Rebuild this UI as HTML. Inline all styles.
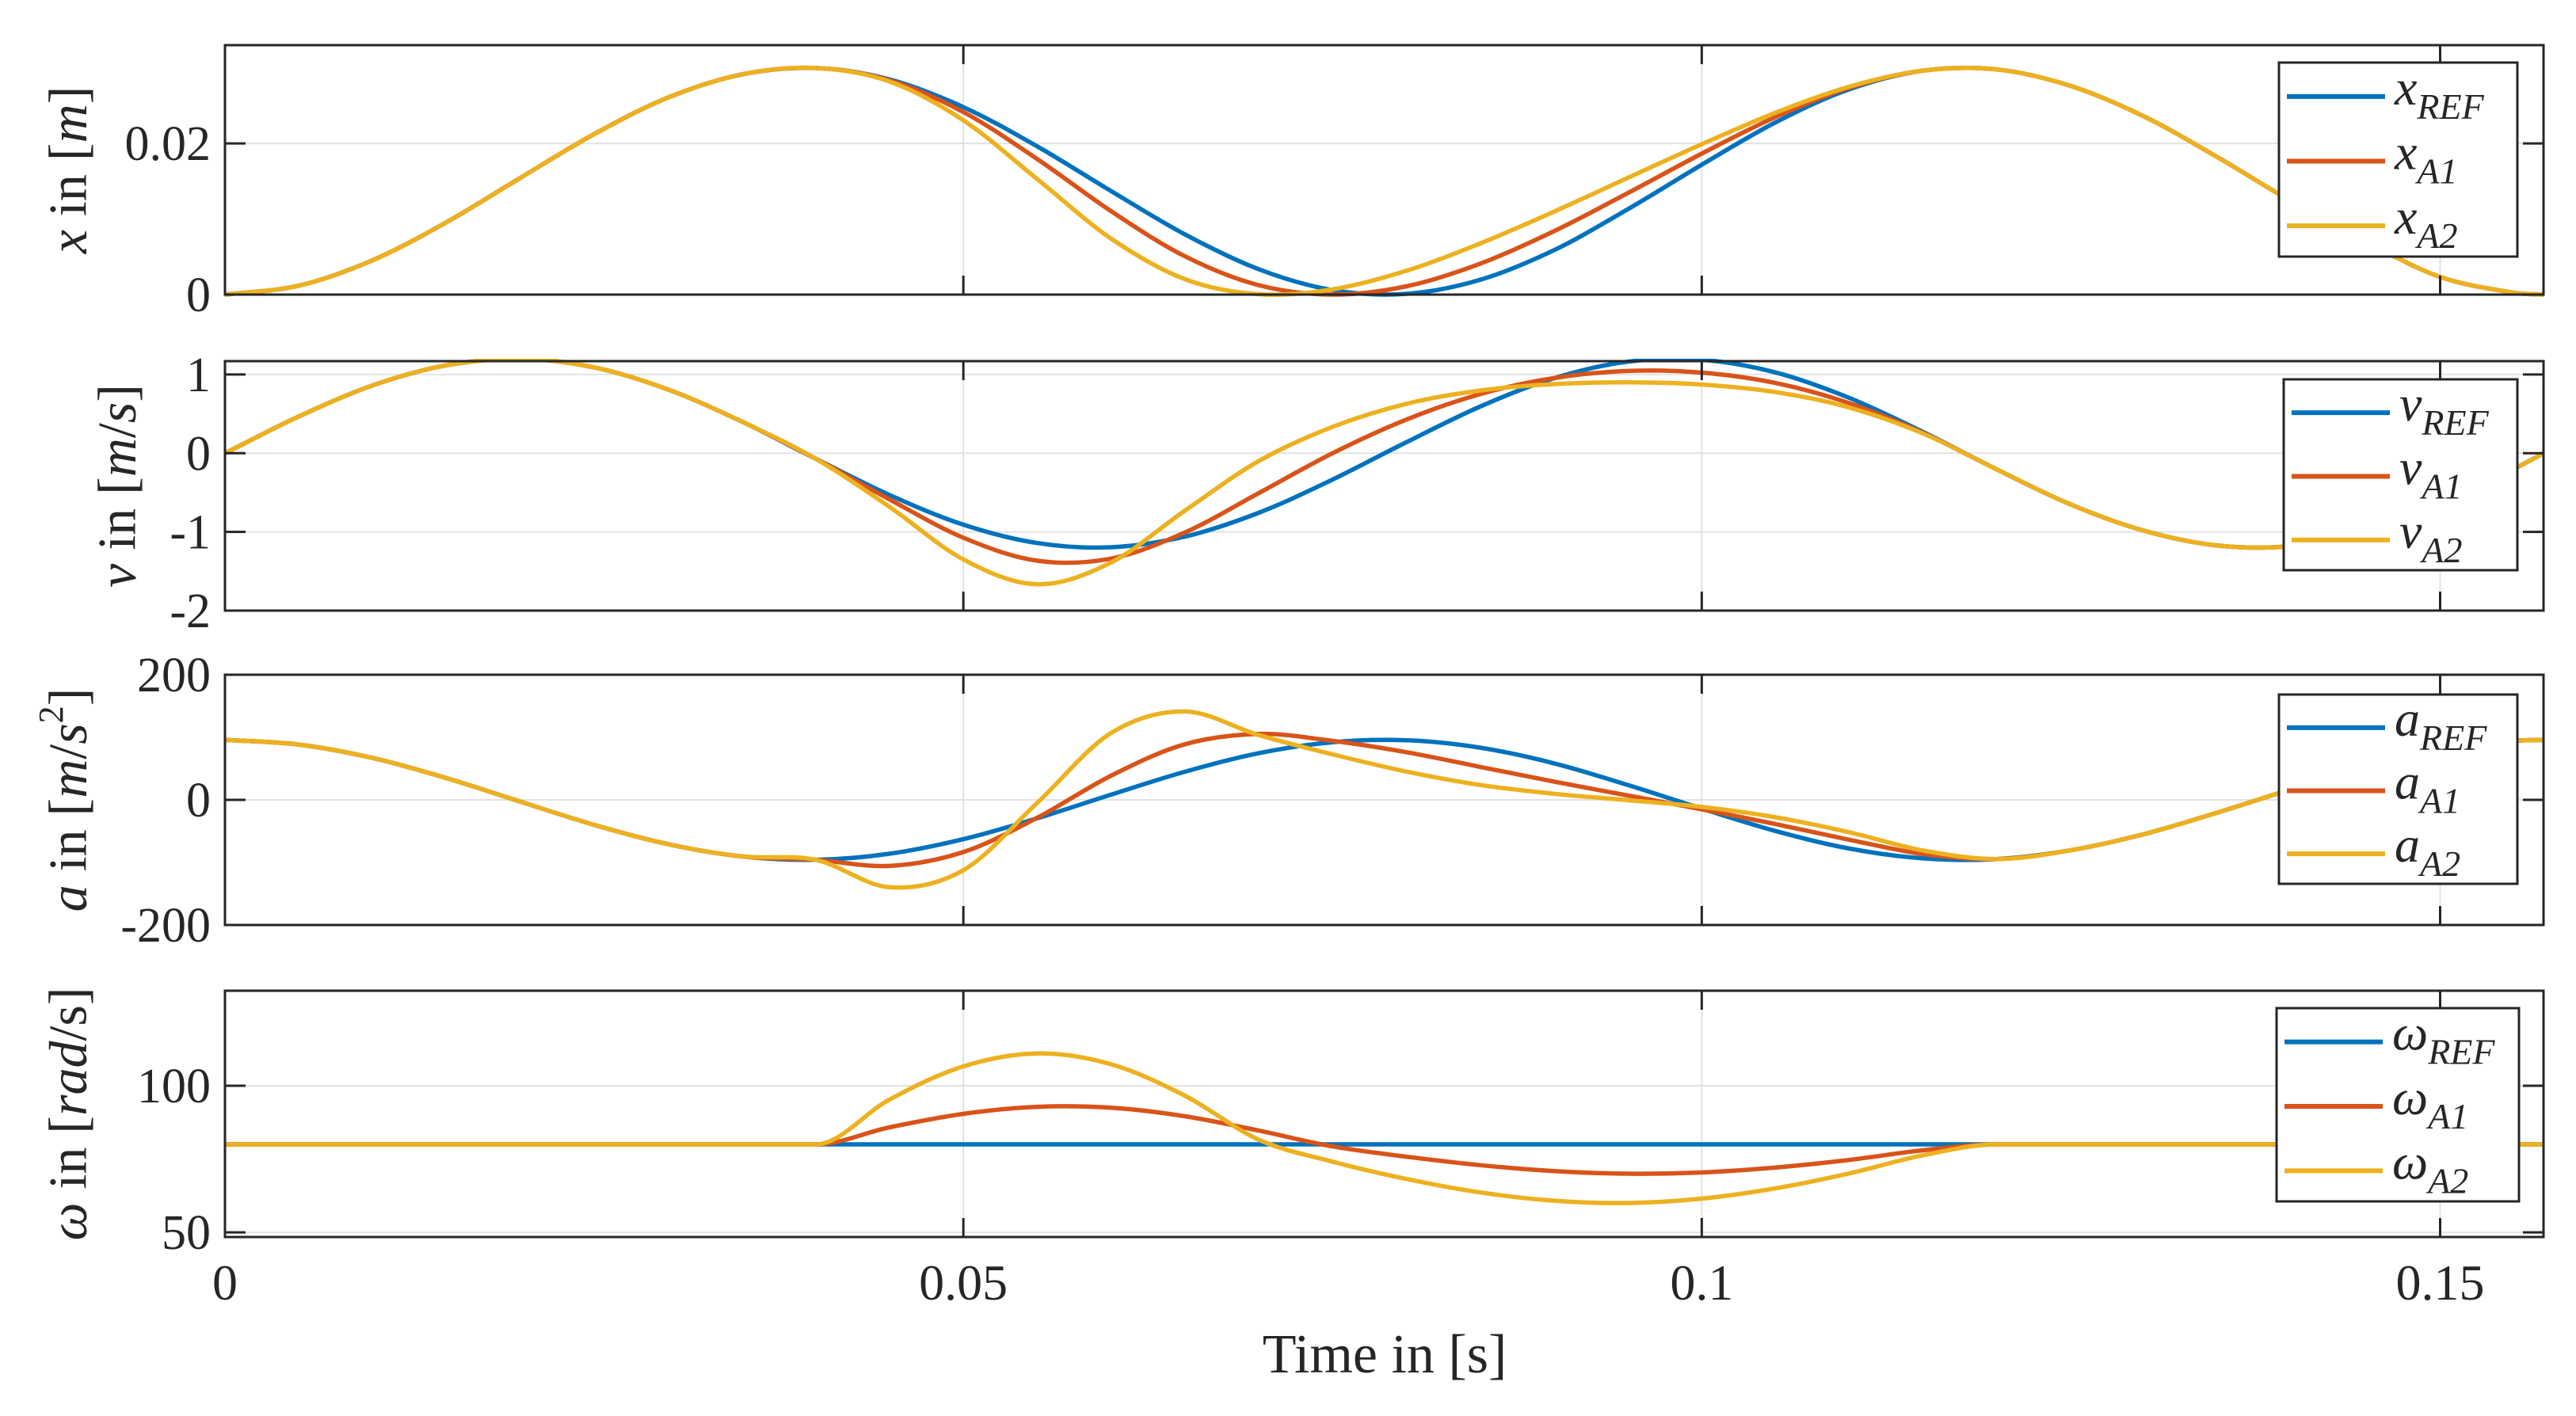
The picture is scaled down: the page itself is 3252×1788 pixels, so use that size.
<!DOCTYPE html>
<html><head><meta charset="utf-8"><style>
html,body{margin:0;padding:0;background:#fff;}
svg{display:block;font-family:"Liberation Serif",serif;}
</style></head><body>
<svg id="chart" width="3252" height="1788" viewBox="0 0 3252 1788" xmlns="http://www.w3.org/2000/svg"></svg>
<script>
const time = [0,0.005,0.01,0.015,0.02,0.025,0.03,0.035,0.04,0.045,0.05,0.055,0.06,0.065,0.07,0.075,0.08,0.085,0.09,0.095,0.1,0.105,0.11,0.115,0.12,0.125,0.13,0.135,0.14,0.145,0.15,0.155,0.157];
const xRef = [0,0.00118,0.00455,0.00957,0.01544,0.02124,0.02606,0.02913,0.02997,0.02846,0.02481,0.01961,0.0137,0.00797,0.00336,0.0006,0.0001,0.00196,0.00588,0.0113,0.01718,0.02279,0.02717,0.02963,0.02978,0.02759,0.02352,0.01809,0.01225,0.00698,0.00234,0.00024,0];
const xA1  = [0,0.00118,0.00455,0.00957,0.01544,0.02124,0.02606,0.02913,0.02997,0.02835,0.02415,0.01794,0.01104,0.00507,0.00125,0,0.0011,0.0041,0.00839,0.01344,0.01865,0.02349,0.02736,0.02963,0.02978,0.02759,0.02352,0.01809,0.01225,0.00698,0.00234,0.00024,0];
const xA2  = [0,0.00118,0.00455,0.00957,0.01544,0.02124,0.02606,0.02913,0.02997,0.02819,0.02306,0.01529,0.00741,0.00204,0.00005,0.00069,0.00315,0.00677,0.01098,0.01545,0.01989,0.02406,0.02751,0.02964,0.02978,0.02759,0.02352,0.01809,0.01225,0.00698,0.00234,0.00024,0];
const vRef = [0,0.467,0.861,1.118,1.2,1.091,0.81,0.402,-0.07,-0.531,-0.908,-1.142,-1.195,-1.06,-0.757,-0.335,0.14,0.593,0.953,1.163,1.187,1.026,0.702,0.268,-0.209,-0.653,-0.988,-1.175,-1.18,-1.014,-0.644,-0.2,0];
const vA1  = [0,0.467,0.861,1.118,1.2,1.091,0.81,0.402,-0.07,-0.587,-1.074,-1.366,-1.339,-1.008,-0.508,0,0.4275,0.751,0.955,1.045,1.024,0.892,0.635,0.256,-0.209,-0.653,-0.988,-1.175,-1.18,-1.014,-0.644,-0.2,0];
const vA2  = [0,0.467,0.861,1.118,1.2,1.091,0.81,0.402,-0.07,-0.682,-1.35,-1.665,-1.389,-0.73,-0.1,0.3346,0.628,0.797,0.878,0.9,0.872,0.777,0.58,0.2495,-0.209,-0.653,-0.988,-1.175,-1.18,-1.014,-0.644,-0.2,0];
const aRef = [96,88.4,66.9,34.8,-2.8,-40,-70.8,-90.4,-95.8,-86.1,-62.8,-29.5,8.4,45,74.5,92.2,95.3,83.4,58.4,23.7,-14,-49.8,-77.9,-93.6,-94.6,-80.5,-54.5,-19.8,17.6,51.4,81,94.4,96];
const aA1  = [96,88.4,66.9,34.8,-2.8,-40,-70.8,-90.4,-95.8,-105.6,-83.4,-28.6,38.6,88.8,105.4,94.3,76.2,52.7,29.3,6.9,-15.1,-38.7,-63.8,-86.7,-94.6,-80.5,-54.5,-19.8,17.6,51.4,81,94.4,96];
const aA2  = [96,88.4,66.9,34.8,-2.8,-40,-70.8,-90.4,-95.8,-139.6,-112.4,-4.8,106.8,141.3,103.5,72.8,45.2,23.8,9.7,-0.5,-11.3,-27.8,-51.9,-81,-94.6,-80.5,-54.5,-19.8,17.6,51.4,81,94.4,96];
const wRef = [80,80,80,80,80,80,80,80,80,80,80,80,80,80,80,80,80,80,80,80,80,80,80,80,80,80,80,80,80,80,80,80,80];
const wA1  = [80,80,80,80,80,80,80,80,80,85.8,90.4,92.8,92.5,89.6,84.7,79.3,75.8,72.9,70.9,70,70.4,72.1,74.7,78,80,80,80,80,80,80,80,80,80];
const wA2  = [80,80,80,80,80,80,80,80,80,95.3,106.6,111,107.3,96.6,81.6,74.1,68.2,63.6,60.8,60,61.5,65,70.1,76.3,80,80,80,80,80,80,80,80,80];
const xTicks = [0,0.05,0.1,0.15];
const xTickLabels = ["0","0.05","0.1","0.15"];
const p1Ticks = [0,0.02], p1Labels = ["0","0.02"];
const p2Ticks = [-2,-1,0,1], p2Labels = ["-2","-1","0","1"];
const p3Ticks = [-200,0,200], p3Labels = ["-200","0","200"];
const p4Ticks = [50,100], p4Labels = ["50","100"];

const NS = "http://www.w3.org/2000/svg";
const svg = document.getElementById('chart');
const L = 284, R = 3211, T0 = 0, T1 = 0.157;
const X = t => L + (t - T0) / (T1 - T0) * (R - L);
const COLORS = ["#0072BD", "#D95319", "#EDB120"];
function el(tag, attrs, parent) {
  const e = document.createElementNS(NS, tag);
  for (const k in attrs) e.setAttribute(k, attrs[k]);
  (parent || svg).appendChild(e);
  return e;
}
// Catmull-Rom tangents, zero slope next to flat segments
function smoothPath(xs, ys) {
  const n = xs.length;
  const d = [], m = new Array(n);
  for (let i = 0; i < n - 1; i++) d.push((ys[i+1]-ys[i])/(xs[i+1]-xs[i]));
  m[0] = d[0]; m[n-1] = d[n-2];
  for (let i = 1; i < n - 1; i++) {
    if (d[i-1] === 0 || d[i] === 0) m[i] = 0;
    else m[i] = (ys[i+1]-ys[i-1])/(xs[i+1]-xs[i-1]);
  }
  let p = "M" + xs[0].toFixed(1) + "," + ys[0].toFixed(1);
  for (let i = 0; i < n - 1; i++) {
    const h = xs[i+1]-xs[i];
    p += " C" + (xs[i]+h/3).toFixed(1) + "," + (ys[i]+m[i]*h/3).toFixed(1) + " " +
         (xs[i+1]-h/3).toFixed(1) + "," + (ys[i+1]-m[i+1]*h/3).toFixed(1) + " " +
         xs[i+1].toFixed(1) + "," + ys[i+1].toFixed(1);
  }
  return p;
}
const panels = [
  {name:"position", top:57, bot:372, ymin:0, ymax:0.0330, ticks:p1Ticks, labels:p1Labels, series:[xRef,xA1,xA2], sym:"x", lx:93, leg:[2877,79,3178,324]},
  {name:"velocity", top:456, bot:771, ymin:-2, ymax:1.17, ticks:p2Ticks, labels:p2Labels, series:[vRef,vA1,vA2], sym:"v", lx:155, leg:[2883,479,3178,720]},
  {name:"acceleration", top:852, bot:1168, ymin:-200, ymax:200, ticks:p3Ticks, labels:p3Labels, series:[aRef,aA1,aA2], sym:"a", lx:93, leg:[2877,877,3178,1116]},
  {name:"angular-velocity", top:1251, bot:1562, ymin:48.4, ymax:132.4, ticks:p4Ticks, labels:p4Labels, series:[wRef,wA1,wA2], sym:"ω", lx:93, leg:[2874,1273,3180,1517]}
];
const subs = ["REF","A1","A2"];
panels.forEach((p, pi) => {
  const Y = v => p.bot - (v - p.ymin) / (p.ymax - p.ymin) * (p.bot - p.top);
  const g = el('g', {});
  
  
  el('rect', {x:L, y:p.top, width:R-L, height:p.bot-p.top, fill:'#fff'}, g);
  xTicks.forEach(t => {
    if (t === 0) return;
    const gl = el('line', {x1:X(t), x2:X(t), y1:p.top, y2:p.bot, stroke:'#e2e2e2', 'stroke-width':2}, g);
    
    
  });
  p.ticks.forEach(v => {
    const gl = el('line', {x1:L, x2:R, y1:Y(v), y2:Y(v), stroke:'#e2e2e2', 'stroke-width':2}, g);
    
    
  });
  const clip = 'clip' + pi;
  const cp = el('clipPath', {id: clip}, g);
  el('rect', {x:L, y:p.top-3, width:R-L, height:p.bot-p.top+6}, cp);
  p.series.forEach((s, si) => {
    const path = el('path', {d: smoothPath(time.map(X), s.map(Y)), fill:'none', stroke:COLORS[si], 'stroke-width':5.5, 'stroke-linejoin':'round', 'clip-path':'url(#'+clip+')'}, g);
    
    
  });
  el('rect', {x:L, y:p.top, width:R-L, height:p.bot-p.top, fill:'none', stroke:'#262626', 'stroke-width':3}, g);
  xTicks.forEach(t => {
    el('line', {x1:X(t), x2:X(t), y1:p.bot, y2:p.bot-24, stroke:'#262626', 'stroke-width':3}, g);
    el('line', {x1:X(t), x2:X(t), y1:p.top, y2:p.top+24, stroke:'#262626', 'stroke-width':3}, g);
  });
  p.ticks.forEach((v, i) => {
    el('line', {x1:L, x2:L+26, y1:Y(v), y2:Y(v), stroke:'#262626', 'stroke-width':3}, g);
    el('line', {x1:R, x2:R-26, y1:Y(v), y2:Y(v), stroke:'#262626', 'stroke-width':3}, g);
    const tx = el('text', {x:266, y:Y(v)+21, 'text-anchor':'end', 'font-size':62, fill:'#262626'}, g);
    tx.textContent = p.labels[i];
    
    
  });
  const cy = (p.top + p.bot) / 2;
  const yl = el('text', {x:p.lx, y:cy, 'text-anchor':'middle', 'font-size':68, fill:'#262626', transform:'rotate(-90 '+p.lx+' '+cy+')', 'dominant-baseline':'middle'}, g);
  
  
  if (p.name === 'acceleration') {
    yl.innerHTML = '<tspan font-style="italic">a</tspan> in [<tspan font-style="italic">m</tspan>/<tspan font-style="italic">s</tspan><tspan baseline-shift="super" font-size="44">2</tspan>]';
  } else if (p.name === 'angular-velocity') {
    yl.innerHTML = '<tspan font-style="italic">ω</tspan> in [<tspan font-style="italic">rad</tspan>/s]';
  } else if (p.name === 'velocity') {
    yl.innerHTML = '<tspan font-style="italic">v</tspan> in [<tspan font-style="italic">m</tspan>/<tspan font-style="italic">s</tspan>]';
  } else {
    yl.innerHTML = '<tspan font-style="italic">x</tspan> in [<tspan font-style="italic">m</tspan>]';
  }
  const [lx0, ly0, lx1, ly1] = p.leg;
  const lg = el('g', {}, g);
  
  
  el('rect', {x:lx0, y:ly0, width:lx1-lx0, height:ly1-ly0, fill:'#fff', stroke:'#262626', 'stroke-width':3}, lg);
  const rowH = (ly1 - ly0) / 3;
  subs.forEach((sb, si) => {
    const ry = ly0 + rowH * (si + 0.5) + 2;
    const e = el('g', {}, lg);
    
    
    el('line', {x1:lx0+10, x2:lx0+134, y1:ry, y2:ry, stroke:COLORS[si], 'stroke-width':6}, e);
    const tt = el('text', {x:lx0+146, y:ry+10, 'font-size':64, fill:'#262626', 'font-style':'italic'}, e);
    tt.innerHTML = p.sym + '<tspan dy="18" font-size="46">' + sb + '</tspan>';
  });
});
xTicks.forEach((t, i) => {
  const tx = el('text', {x:X(t), y:1641, 'text-anchor':'middle', 'font-size':64, fill:'#262626'});
  tx.textContent = xTickLabels[i];
  
  
});
const xt = el('text', {x:1748, y:1733, 'text-anchor':'middle', 'font-size':70, fill:'#262626'});
xt.textContent = 'Time in [s]';


</script>
</body></html>
